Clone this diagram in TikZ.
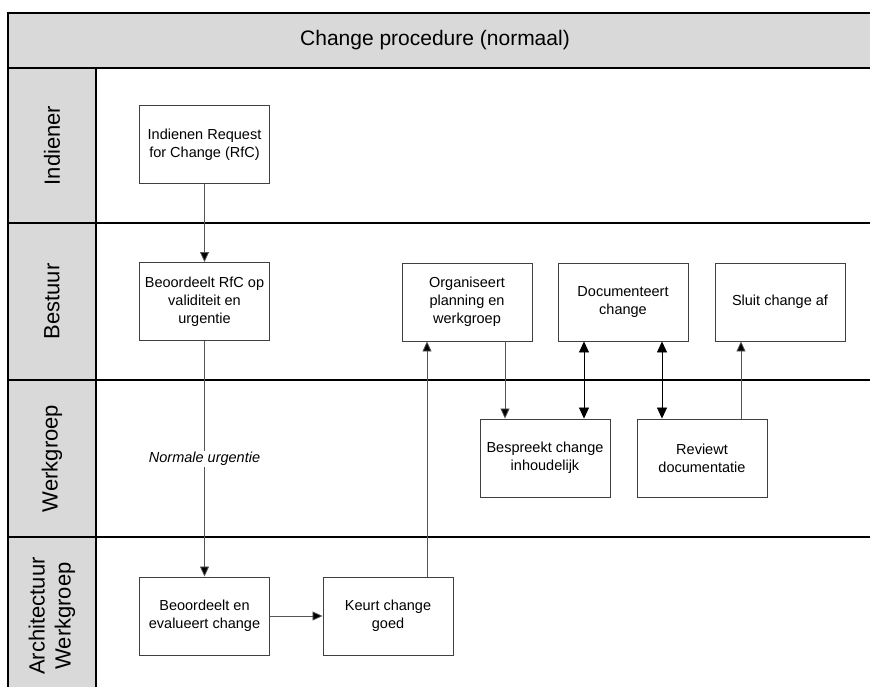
\documentclass[tikz,border=0pt]{standalone}
\usepackage{fontspec}
\setmainfont{Liberation Sans}
\usetikzlibrary{arrows.meta}
\definecolor{lanegray}{HTML}{D9D9D9}
\definecolor{boxline}{HTML}{404040}
\definecolor{conline}{HTML}{555555}
\begin{document}
\begin{tikzpicture}[x=1pt,y=-1pt,
  procbox/.style={draw=boxline,line width=0.9pt,fill=white,minimum width=130pt,minimum height=78pt,
    align=center,inner sep=0pt,font=\fontsize{14.5}{18}\selectfont},
  lanelabel/.style={rotate=90,align=center,font=\fontsize{22}{26}\selectfont},
  conn/.style={draw=conline,line width=0.8pt,-{Triangle[length=10pt,width=9pt,fill=black]}},
  dconn/.style={draw=black,line width=0.8pt,{Triangle[length=11pt,width=10pt,fill=black]}-{Triangle[length=11pt,width=10pt,fill=black]}},
  laneline/.style={draw=black,line width=1.2pt}]
\useasboundingbox (0,0) rectangle (870,687);
\begin{scope}
\clip (0,0) rectangle (870,687);
% title band and label column
\fill[lanegray] (8,13) rectangle (880,68);
\fill[lanegray] (8,68) rectangle (96,700);
\draw[laneline,line width=2pt] (880,13) -- (8,13) -- (8,700);
\draw[laneline,line width=1.8pt] (8,68) -- (880,68);
\draw[laneline] (96,68) -- (96,700);
\draw[laneline] (8,223) -- (880,223);
\draw[laneline] (8,380) -- (880,380);
\draw[laneline] (8,537) -- (880,537);
\end{scope}
\node[font=\fontsize{21}{25}\selectfont] (title) at (435,40.5) {Change procedure (normaal)};
\node[lanelabel] (l1) at (52,145.5) {Indiener};
\node[lanelabel] (l2) at (52,301.5) {Bestuur};
\node[lanelabel] (l3) at (52,458.5) {Werkgroep};
\node[lanelabel] (l4) at (52,616) {Architectuur\\Werkgroep};
% process boxes
\node[procbox] (ind) at (204.5,144.5) {Indienen Request\\for Change (RfC)};
\node[procbox] (rfc) at (204.5,301.5) {Beoordeelt RfC op\\validiteit en\\urgentie};
\node[procbox] (evl) at (204.5,616) {Beoordeelt en\\evalueert change};
\node[procbox] (keur) at (388,616) {Keurt change\\goed};
\node[procbox] (org) at (467,302) {Organiseert\\planning en\\werkgroep};
\node[procbox] (doc) at (623,302) {Documenteert\\change};
\node[procbox] (sluit) at (780,302) {Sluit change af};
\node[procbox] (bes) at (545,458) {Bespreekt change\\inhoudelijk};
\node[procbox] (rev) at (702,458) {Reviewt\\documentatie};
% connectors
\draw[conn] (ind.south) -- (rfc.north);
\draw[conn] (rfc.south) -- node[fill=white,inner sep=1pt,font=\itshape\fontsize{14.5}{18}\selectfont] (nu) {Normale urgentie} (evl.north);
\draw[conn] (evl.east) -- (keur.west);
\draw[conn] ([xshift=39pt]keur.north) -- ([xshift=39pt]keur.north |- org.south);
\draw[conn] ([xshift=38pt]org.south) -- ([xshift=38pt]org.south |- bes.north);
\draw[dconn] ([xshift=-39pt]doc.south) -- ([xshift=-39pt]doc.south |- bes.north);
\draw[dconn] ([xshift=39pt]doc.south) -- ([xshift=39pt]doc.south |- rev.north);
\draw[conn] ([xshift=39pt]rev.north) -- ([xshift=39pt]rev.north |- sluit.south);
\end{tikzpicture}
\end{document}
